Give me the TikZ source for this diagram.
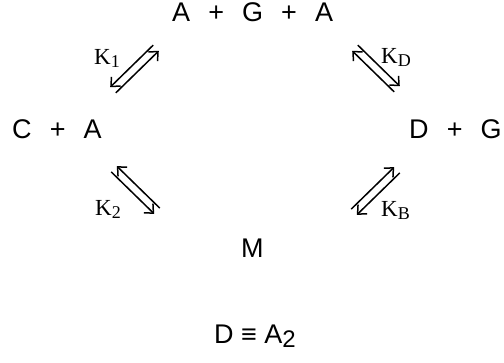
\documentclass[tikz,border=0pt]{standalone}
\usepackage{fontspec}
\setmainfont{Liberation Sans}
\newfontfamily\rateserif{Liberation Serif}
\usetikzlibrary{arrows.meta, calc}

\begin{document}
\begin{tikzpicture}[
    x=1pt, y=-1pt,
    species/.style={font=\fontsize{27}{32}\selectfont, inner sep=0pt, anchor=base west},
    rate/.style={font=\rateserif\fontsize{23}{27}\selectfont, inner sep=0pt, anchor=base west},
    eqline/.style={line width=1.5pt, -{Straight Barb[length=7pt, width=13pt]}}
]
    \useasboundingbox (0,0) rectangle (504,362);

    % species
    \node[species] (aga) at (172,21.5) {A\hspace{0.67em}+\hspace{0.67em}G\hspace{0.67em}+\hspace{0.67em}A};
    \node[species] (ca)  at (12,138)   {C\hspace{0.67em}+\hspace{0.67em}A};
    \node[species] (dg)  at (409,138)  {D\hspace{0.67em}+\hspace{0.67em}G};
    \node[species] (m)   at (241,257)  {M};
    \node[species] (dim) at (214,343)  {D ≡ A\raisebox{-0.35ex}{\fontsize{24}{28}\selectfont 2}};

    % rate constants
    \node[rate] (k1) at (94,64)  {K\raisebox{-0.3ex}{\fontsize{18}{21}\selectfont 1}};
    \node[rate] (kd) at (381,63) {K\raisebox{-0.3ex}{\fontsize{18}{21}\selectfont D}};
    \node[rate] (k2) at (95,215) {K\raisebox{-0.3ex}{\fontsize{18}{21}\selectfont 2}};
    \node[rate] (kb) at (381,216) {K\raisebox{-0.3ex}{\fontsize{18}{21}\selectfont B}};

    % ends of the equilibrium arrows
    \coordinate (k1s) at (113,90);  \coordinate (k1e) at (156,48);
    \coordinate (kds) at (397,89);  \coordinate (kde) at (355,48);
    \coordinate (k2s) at (157,211); \coordinate (k2e) at (114,169);
    \coordinate (kbs) at (354,212); \coordinate (kbe) at (397,170);

    \draw[eqline] ($(k1s)!4pt!-90:(k1e)$) -- ($(k1e)!4pt!90:(k1s)$);
    \draw[eqline] ($(k1e)!4pt!-90:(k1s)$) -- ($(k1s)!4pt!90:(k1e)$);
    \draw[eqline] ($(kds)!4pt!90:(kde)$) -- ($(kde)!4pt!-90:(kds)$);
    \draw[eqline] ($(kde)!4pt!90:(kds)$) -- ($(kds)!4pt!-90:(kde)$);
    \draw[eqline] ($(k2s)!4pt!-90:(k2e)$) -- ($(k2e)!4pt!90:(k2s)$);
    \draw[eqline] ($(k2e)!4pt!-90:(k2s)$) -- ($(k2s)!4pt!90:(k2e)$);
    \draw[eqline] ($(kbs)!4pt!90:(kbe)$) -- ($(kbe)!4pt!-90:(kbs)$);
    \draw[eqline] ($(kbe)!4pt!90:(kbs)$) -- ($(kbs)!4pt!-90:(kbe)$);
\end{tikzpicture}
\end{document}
